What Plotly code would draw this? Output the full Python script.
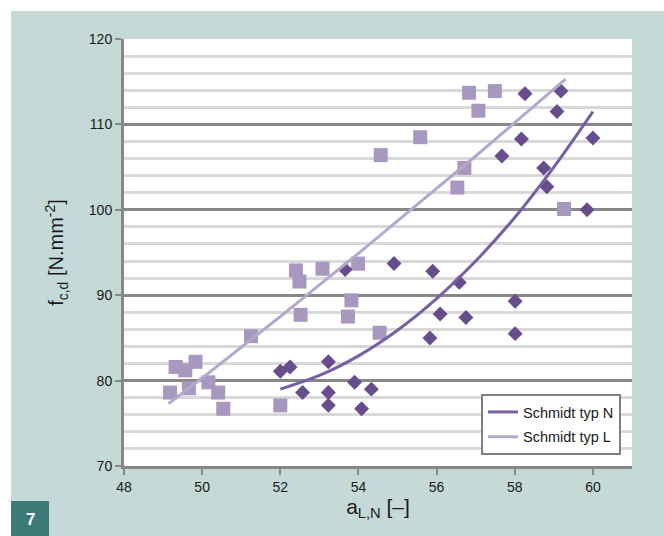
import plotly.graph_objects as go

# Schmidt typ L (squares)
l_x = [49.18, 49.32, 49.57, 49.83, 49.66, 50.16, 50.41, 50.54, 51.25, 52.00,
       52.40, 52.49, 52.52, 53.08, 53.73, 53.82, 53.99, 54.54, 54.57, 55.58,
       56.53, 56.71, 56.83, 57.07, 57.49, 59.26]
l_y = [78.6, 81.6, 81.2, 82.2, 79.1, 79.8, 78.6, 76.7, 85.2, 77.1,
       92.9, 91.6, 87.7, 93.1, 87.5, 89.4, 93.7, 85.6, 106.4, 108.5,
       102.6, 104.9, 113.7, 111.6, 113.9, 100.1]

# Schmidt typ N (diamonds)
n_x = [52.00, 52.25, 52.57, 53.23, 53.23, 53.23, 53.66, 53.90, 54.08, 54.33,
       54.91, 55.83, 55.90, 56.09, 56.58, 56.75, 57.67, 58.01, 58.01, 58.17,
       58.26, 58.74, 58.82, 59.08, 59.18, 59.85, 60.00]
n_y = [81.1, 81.6, 78.6, 82.2, 78.6, 77.1, 93.0, 79.8, 76.7, 79.0,
       93.7, 85.0, 92.8, 87.8, 91.5, 87.4, 106.3, 89.3, 85.5, 108.3,
       113.6, 104.9, 102.7, 111.5, 113.9, 100.0, 108.4]

# trendlines
trend_n_x = [52.0, 53.0, 54.0, 55.0, 56.0, 57.0, 58.0, 59.0, 60.0]
trend_n_y = [79.0, 80.6, 82.9, 85.9, 89.6, 94.0, 99.1, 105.0, 111.5]
trend_l_x = [49.14, 50.0, 51.0, 52.0, 53.0, 54.0, 55.0, 56.0, 57.0, 58.0, 59.3]
trend_l_y = [77.3, 80.3, 83.9, 87.5, 91.2, 94.9, 98.7, 102.5, 106.3, 110.2, 115.3]

x_ticks = [48, 50, 52, 54, 56, 58, 60]
y_ticks = [70, 80, 90, 100, 110, 120]

C_N_MARK = "#674d8c"
C_N_LINE = "#7660a3"
C_L_MARK = "#a898c0"
C_L_LINE = "#b4a8cc"
TEAL_BG = "#c5d9d7"
GRID_MAJ = "#878787"
GRID_MIN = "#d9d9d9"

fig = go.Figure()

fig.add_trace(go.Scatter(x=l_x, y=l_y, mode="markers", showlegend=False,
                         marker=dict(symbol="square", size=14, color=C_L_MARK)))
fig.add_trace(go.Scatter(x=n_x, y=n_y, mode="markers", showlegend=False,
                         marker=dict(symbol="diamond", size=11.5, color=C_N_MARK)))

fig.add_trace(go.Scatter(x=trend_n_x, y=trend_n_y, mode="lines", name="Schmidt typ N",
                         legendgroup="n", line=dict(color=C_N_LINE, width=3, shape="spline")))
fig.add_trace(go.Scatter(x=trend_l_x, y=trend_l_y, mode="lines", name="Schmidt typ L",
                         legendgroup="l", line=dict(color=C_L_LINE, width=3, shape="spline")))

W, H = 664, 536
ml, mr, mt, mb = 124, 32, 39, 70
pw, ph = W - ml - mr, H - mt - mb


def px_x(p):
    return (p - ml) / pw


def px_y(p):
    return (H - mb - p) / ph


shapes = [
    dict(type="rect", xref="paper", yref="paper", x0=px_x(0), x1=px_x(W),
         y0=px_y(11), y1=px_y(0), fillcolor="white", line_width=0, layer="below"),
    dict(type="rect", xref="paper", yref="paper", x0=px_x(0), x1=px_x(11),
         y0=px_y(H), y1=px_y(0), fillcolor="white", line_width=0, layer="below"),
    dict(type="rect", xref="paper", yref="paper", x0=px_x(11), x1=px_x(49),
         y0=px_y(H), y1=px_y(501), fillcolor="#3a7b78", line_width=0, layer="above"),
]

annotations = [
    dict(text="<b>7</b>", xref="paper", yref="paper", x=px_x(30), y=px_y(519),
         showarrow=False, font=dict(family="Liberation Sans, Arial", size=17, color="white"),
         xanchor="center", yanchor="middle"),
]

fig.update_layout(
    width=W, height=H,
    margin=dict(l=ml, r=mr, t=mt, b=mb, pad=0),
    paper_bgcolor=TEAL_BG,
    plot_bgcolor="white",
    shapes=shapes,
    annotations=annotations,
    font=dict(family="Liberation Sans, Arial", color="#1a1a1a"),
    legend=dict(x=px_x(481), y=px_y(394), xanchor="left", yanchor="top",
                bgcolor="white", bordercolor="#7f7f7f", borderwidth=2,
                font=dict(family="Liberation Sans, Arial", size=14.5, color="#1a1a1a"),
                tracegroupgap=3, itemwidth=30),
    showlegend=True,
)

fig.update_xaxes(
    range=[48, 61], tickvals=x_ticks, ticktext=[str(v) for v in x_ticks],
    showgrid=False, zeroline=False,
    showline=True, linecolor=GRID_MAJ, linewidth=3,
    ticks="outside", ticklen=6, tickwidth=2, tickcolor=GRID_MAJ,
    tickfont=dict(family="Liberation Sans Narrow, Liberation Sans, Arial", size=14, color="#1a1a1a"),
    title=dict(text="a<sub>L,N</sub> [–]", font=dict(family="Liberation Sans, Arial", size=21, color="#1a1a1a"),
               standoff=6),
)
fig.update_yaxes(
    range=[70, 120], tickvals=y_ticks, ticktext=[str(v) for v in y_ticks],
    showgrid=True, gridcolor=GRID_MAJ, gridwidth=3, zeroline=False,
    minor=dict(dtick=2, tick0=70, showgrid=True, gridcolor=GRID_MIN, gridwidth=3, ticks=""),
    showline=True, linecolor=GRID_MAJ, linewidth=3,
    ticks="outside", ticklen=6, tickwidth=2, tickcolor=GRID_MAJ,
    tickfont=dict(family="Liberation Sans Narrow, Liberation Sans, Arial", size=14, color="#1a1a1a"),
    title=dict(text="f<sub>c,d</sub> [N.mm<sup>-2</sup>]",
               font=dict(family="Liberation Sans, Arial", size=20, color="#1a1a1a"), standoff=20),
)

fig.write_html("out.html")
